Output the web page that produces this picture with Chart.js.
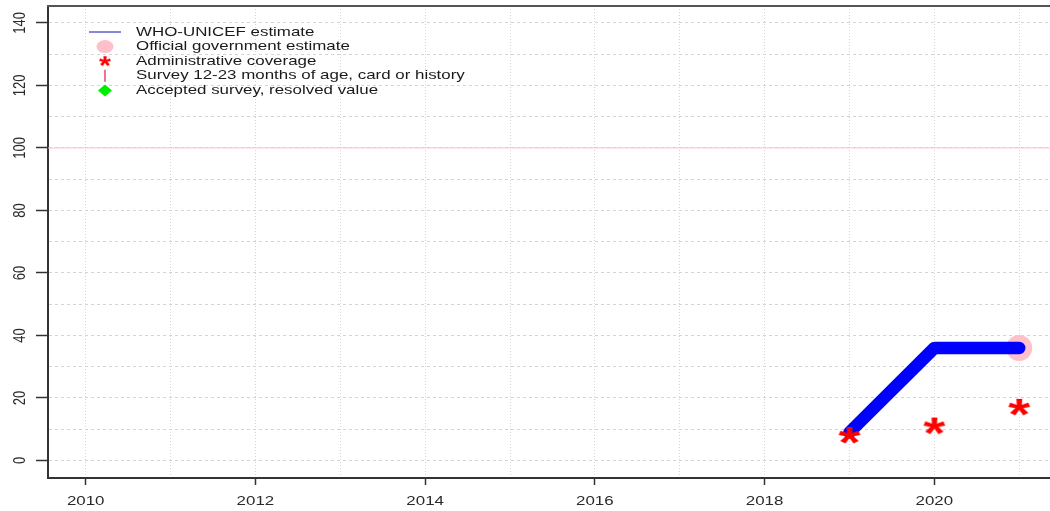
<!DOCTYPE html>
<html>
<head>
<meta charset="utf-8">
<script src="https://cdn.jsdelivr.net/npm/chart.js@4.4.1/dist/chart.umd.min.js"></script>
<style>
  body { margin: 0; background: #fff; }
</style>
</head>
<body>
<canvas id="myChart" width="1050" height="511"></canvas>
<script>
// data
const years = [2019, 2020, 2021];
const wuenic = [9, 36, 36];
const official = [null, null, 36];
const admin = [8, 11, 17];
const survey = [];
const accepted = [];
const refLine = 100;

const legendLabels = [
  'WHO-UNICEF estimate',
  'Official government estimate',
  'Administrative coverage',
  'Survey 12-23 months of age, card or history',
  'Accepted survey, resolved value'
];

const STRETCH = 1.3;
const FONT = '"Liberation Sans", Arial, sans-serif';

const toPoints = (xs, ys) => xs.map((x, i) => ({x: x, y: ys[i]})).filter(p => p.y !== null && p.y !== undefined);

// red asterisk drawn as a small image, used as the point style
const makeStar = (w, h) => {
  const c = document.createElement('canvas');
  c.width = w + 4; c.height = h + 4;
  const g = c.getContext('2d');
  g.font = 'bold 100px ' + FONT;
  const m = g.measureText('*');
  const gw = m.actualBoundingBoxLeft + m.actualBoundingBoxRight;
  const gh = m.actualBoundingBoxAscent + m.actualBoundingBoxDescent;
  g.translate(c.width / 2, c.height / 2);
  g.scale(w / gw, h / gh);
  g.fillStyle = '#FF0000';
  g.fillText('*', -gw / 2 + m.actualBoundingBoxLeft, (m.actualBoundingBoxAscent - m.actualBoundingBoxDescent) / 2);
  return c;
};
const bigStar = makeStar(22, 17);
const smallStar = makeStar(12, 10);

const rPlot = {
  id: 'rPlot',
  beforeDatasetsDraw(chart) {
    const {ctx, chartArea: a, scales: {y}} = chart;
    const py = y.getPixelForValue(refLine);
    ctx.save();
    ctx.strokeStyle = '#FFC0CB';
    ctx.lineWidth = 1;
    ctx.beginPath();
    ctx.moveTo(a.left, py);
    ctx.lineTo(a.right, py);
    ctx.stroke();
    ctx.restore();
  },
  afterDraw(chart) {
    const {ctx, chartArea: a, scales: {x, y}} = chart;
    ctx.save();
    // top of the box
    ctx.strokeStyle = '#555';
    ctx.lineWidth = 2;
    ctx.beginPath();
    ctx.moveTo(a.left - 1, a.top);
    ctx.lineTo(a.right, a.top);
    ctx.stroke();

    ctx.fillStyle = '#2a2a2a';
    ctx.font = '13px ' + FONT;
    ctx.textAlign = 'center';
    ctx.textBaseline = 'middle';
    // y labels, rotated
    y.ticks.forEach(t => {
      if (t.value % 20 !== 0) return;
      ctx.save();
      ctx.translate(20, y.getPixelForValue(t.value));
      ctx.rotate(-Math.PI / 2);
      ctx.scale(1, STRETCH);
      ctx.fillText(String(t.value), 0, 0);
      ctx.restore();
    });
    // x labels
    x.ticks.forEach(t => {
      if (t.value % 2 !== 0) return;
      ctx.save();
      ctx.translate(x.getPixelForValue(t.value), a.bottom + 23);
      ctx.scale(STRETCH, 1);
      ctx.fillText(String(t.value), 0, 0);
      ctx.restore();
    });

    // legend
    const lx = a.left + 57;
    const tx = a.left + 88;
    const ly0 = a.top + 26;
    const step = 14.6;
    legendLabels.forEach((lab, i) => {
      const ly = ly0 + i * step;
      if (i === 0) {
        ctx.strokeStyle = '#1010B0';
        ctx.lineWidth = 1;
        ctx.beginPath();
        ctx.moveTo(lx - 16, ly); ctx.lineTo(lx + 16, ly);
        ctx.stroke();
      } else if (i === 1) {
        ctx.fillStyle = '#FFC0CB';
        ctx.beginPath();
        ctx.ellipse(lx, ly, 8.5, 6.5, 0, 0, Math.PI * 2);
        ctx.fill();
      } else if (i === 2) {
        ctx.drawImage(smallStar, lx - smallStar.width / 2, ly - smallStar.height / 2);
      } else if (i === 3) {
        ctx.strokeStyle = '#F0406A';
        ctx.lineWidth = 1.5;
        ctx.beginPath();
        ctx.moveTo(lx, ly - 6); ctx.lineTo(lx, ly + 6);
        ctx.stroke();
      } else {
        ctx.fillStyle = '#00EE00';
        ctx.beginPath();
        ctx.moveTo(lx, ly - 6); ctx.lineTo(lx + 7, ly);
        ctx.lineTo(lx, ly + 6); ctx.lineTo(lx - 7, ly);
        ctx.closePath();
        ctx.fill();
      }
      ctx.save();
      ctx.fillStyle = '#1a1a1a';
      ctx.textAlign = 'left';
      ctx.translate(tx, ly);
      ctx.scale(STRETCH, 1);
      ctx.fillText(lab, 0, 0);
      ctx.restore();
    });
    ctx.restore();
  }
};

const ctx = document.getElementById('myChart');

new Chart(ctx, {
  type: 'line',
  data: {
    datasets: [
      {
        label: legendLabels[2],
        data: toPoints(years, admin),
        showLine: false,
        pointStyle: bigStar,
        pointRadius: 10
      },
      {
        label: legendLabels[0],
        data: toPoints(years, wuenic),
        borderColor: '#0000FF',
        borderWidth: 12.5,
        borderCapStyle: 'round',
        borderJoinStyle: 'round',
        pointRadius: 0,
        tension: 0
      },
      {
        label: legendLabels[1],
        data: toPoints(years, official),
        showLine: false,
        pointStyle: 'circle',
        pointRadius: 13,
        backgroundColor: '#FFC0CB',
        borderWidth: 0
      },
      {
        label: legendLabels[3],
        data: toPoints(years, survey),
        showLine: false
      },
      {
        label: legendLabels[4],
        data: toPoints(years, accepted),
        showLine: false
      }
    ]
  },
  options: {
    responsive: false,
    animation: false,
    layout: { autoPadding: false, padding: { top: 6, left: 0, right: 0, bottom: 0 } },
    plugins: {
      legend: { display: false },
      tooltip: { enabled: false }
    },
    scales: {
      x: {
        type: 'linear',
        min: 2009.556,
        max: 2021.363,
        afterFit: s => { s.height = 33; },
        ticks: { display: false, stepSize: 1, includeBounds: false },
        grid: {
          color: '#d4d4d4',
          lineWidth: 1,
          tickLength: 7,
          tickWidth: 1.5,
          tickColor: c => (c.tick && c.tick.value % 2 === 0) ? '#333' : 'rgba(0,0,0,0)'
        },
        border: { color: '#333', width: 2, dash: [1, 2] }
      },
      y: {
        min: -5.6,
        max: 145.4,
        afterFit: s => { s.width = 48; },
        ticks: { display: false, stepSize: 10, includeBounds: false },
        grid: {
          color: '#d4d4d4',
          lineWidth: 1,
          tickLength: 12,
          tickWidth: 1.5,
          tickColor: c => (c.tick && c.tick.value % 20 === 0) ? '#333' : 'rgba(0,0,0,0)'
        },
        border: { color: '#333', width: 2, dash: [3, 3] }
      }
    }
  },
  plugins: [rPlot]
});
</script>
</body>
</html>
